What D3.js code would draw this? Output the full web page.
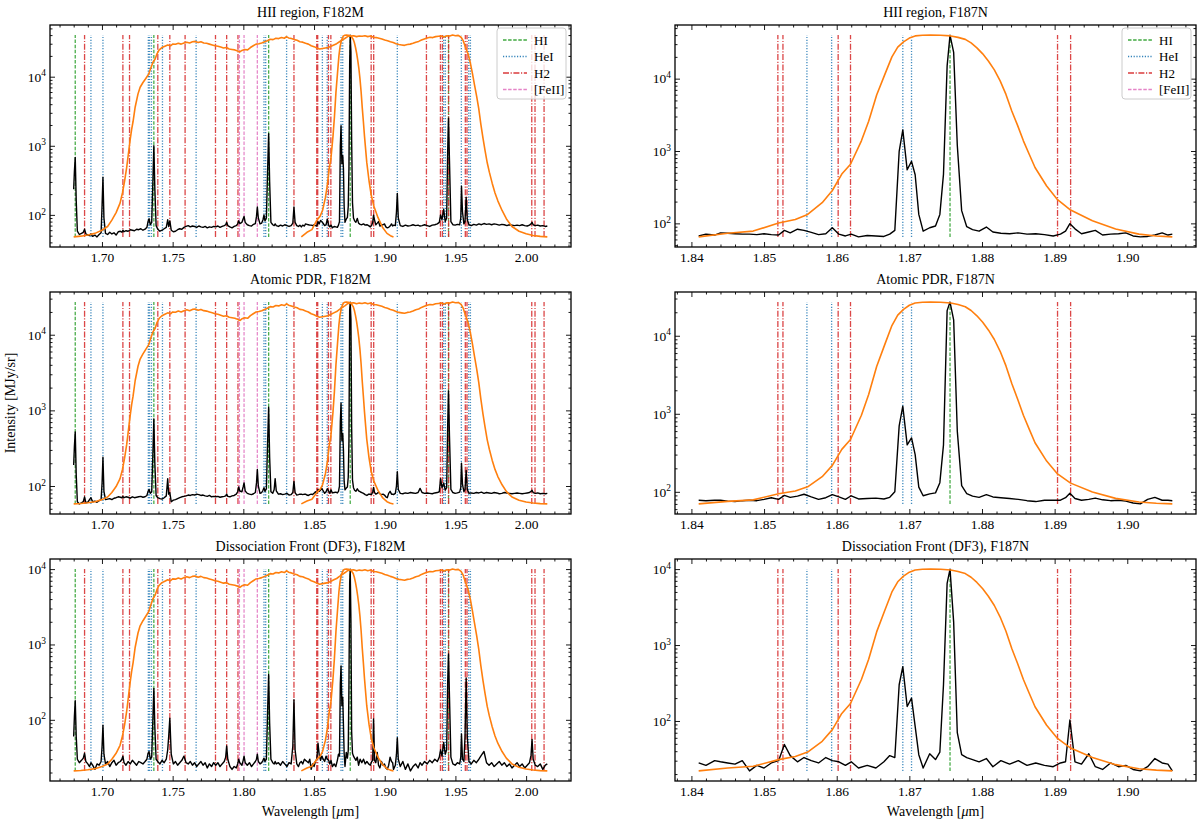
<!DOCTYPE html>
<html>
<head>
<meta charset="utf-8">
<script src="https://cdnjs.cloudflare.com/ajax/libs/d3/7.8.5/d3.min.js"></script>
<style>
  body { margin: 0; background: #fff; }
  svg, svg text { font-family: "Liberation Serif", "Times New Roman", "DejaVu Serif", serif; }
</style>
</head>
<body>
<svg id="fig" width="1200" height="824"></svg>
<script>
const SERIF = '"Liberation Serif", "Times New Roman", "DejaVu Serif", serif';

// shared wavelength grid of the extracted spectra [um]
const wavelength = [
  1.6800, 1.6805, 1.6811, 1.6818, 1.6826, 1.6840, 1.6855, 1.6868, 1.6877, 1.6886,
  1.6900, 1.6912, 1.6922, 1.6934, 1.6950, 1.6965, 1.6980, 1.6994, 1.7001, 1.7007,
  1.7014, 1.7025, 1.7040, 1.7055, 1.7070, 1.7085, 1.7100, 1.7115, 1.7130, 1.7141,
  1.7148, 1.7156, 1.7170, 1.7185, 1.7200, 1.7215, 1.7230, 1.7245, 1.7260, 1.7275,
  1.7290, 1.7305, 1.7318, 1.7326, 1.7333, 1.7342, 1.7352, 1.7360, 1.7367, 1.7374,
  1.7383, 1.7395, 1.7410, 1.7425, 1.7440, 1.7455, 1.7465, 1.7472, 1.7480, 1.7490,
  1.7505, 1.7520, 1.7535, 1.7550, 1.7565, 1.7580, 1.7595, 1.7610, 1.7625, 1.7640,
  1.7655, 1.7670, 1.7685, 1.7700, 1.7715, 1.7730, 1.7745, 1.7760, 1.7775, 1.7790,
  1.7805, 1.7820, 1.7835, 1.7850, 1.7865, 1.7875, 1.7882, 1.7890, 1.7905, 1.7920,
  1.7935, 1.7950, 1.7960, 1.7967, 1.7975, 1.7990, 1.7999, 1.8005, 1.8013, 1.8028,
  1.8043, 1.8058, 1.8072, 1.8085, 1.8093, 1.8099, 1.8106, 1.8118, 1.8130, 1.8139,
  1.8146, 1.8153, 1.8163, 1.8171, 1.8179, 1.8186, 1.8195, 1.8208, 1.8218, 1.8225,
  1.8233, 1.8248, 1.8263, 1.8278, 1.8293, 1.8308, 1.8323, 1.8338, 1.8350, 1.8358,
  1.8366, 1.8378, 1.8390, 1.8400,
  1.8410, 1.8420, 1.8432, 1.8440, 1.8450, 1.8460, 1.8470, 1.8480, 1.8490, 1.8500,
  1.8510, 1.8520, 1.8528, 1.8536, 1.8546, 1.8555, 1.8565, 1.8575, 1.8585, 1.8594,
  1.8603, 1.8612, 1.8620, 1.8630, 1.8642, 1.8654, 1.8665, 1.8673, 1.8680, 1.8686,
  1.8691, 1.8697, 1.8703, 1.8708, 1.8713, 1.8719, 1.8728, 1.8736, 1.8742, 1.8747,
  1.8752, 1.8756, 1.8761, 1.8766, 1.8772, 1.8779, 1.8787, 1.8796, 1.8806, 1.8815,
  1.8826, 1.8838, 1.8850, 1.8862, 1.8874, 1.8886, 1.8898, 1.8908, 1.8915, 1.8921,
  1.8928, 1.8937, 1.8947, 1.8956, 1.8966, 1.8977, 1.8988, 1.8998, 1.9008, 1.9018,
  1.9028, 1.9038, 1.9048, 1.9056, 1.9062,
  1.9075, 1.9083, 1.9089, 1.9096, 1.9110, 1.9128, 1.9146, 1.9164, 1.9182, 1.9200,
  1.9218, 1.9236, 1.9250, 1.9264, 1.9282, 1.9300, 1.9318, 1.9336, 1.9354, 1.9372,
  1.9386, 1.9395, 1.9405, 1.9417, 1.9428, 1.9438, 1.9445, 1.9451, 1.9458, 1.9468,
  1.9482, 1.9498, 1.9514, 1.9530, 1.9538, 1.9543, 1.9550, 1.9560, 1.9568, 1.9576,
  1.9584, 1.9596, 1.9612, 1.9630, 1.9648, 1.9666, 1.9684, 1.9702, 1.9720, 1.9738,
  1.9756, 1.9774, 1.9792, 1.9810, 1.9828, 1.9846, 1.9864, 1.9882, 1.9900, 1.9918,
  1.9936, 1.9954, 1.9972, 1.9990, 2.0008, 2.0024, 2.0035, 2.0042, 2.0050, 2.0065,
  2.0082, 2.0100, 2.0118, 2.0136, 2.0150
];

// intensity [MJy/sr] on that grid, one array per region
const hiiFlux = [
  235, 420, 680, 160, 58, 52, 54, 56, 62, 53,
  51, 50, 53, 49, 51, 48, 52, 55, 140, 350,
  90, 54, 52, 56, 53, 55, 51, 57, 58, 56,
  60, 57, 59, 58, 61, 60, 59, 62, 61, 63,
  60, 62, 66, 80, 88, 72, 78, 300, 1000, 240,
  70, 62, 58, 60, 63, 66, 85, 68, 82, 60,
  57, 58, 61, 63, 62, 66, 68, 70, 67, 69,
  68, 66, 69, 67, 66, 68, 65, 67, 66, 68,
  67, 69, 66, 68, 70, 72, 78, 70, 67, 65,
  68, 70, 74, 82, 75, 78, 88, 95, 78, 72,
  70, 69, 73, 75, 95, 130, 90, 74, 76, 85,
  100, 82, 90, 400, 1500, 300, 78, 72, 70, 74,
  70, 68, 71, 69, 72, 70, 68, 70, 76, 130,
  78, 70, 68, 71,
  67, 71, 69, 74, 73, 72, 71, 71, 70, 72,
  70, 69, 80, 74, 83, 80, 75, 70, 72, 87,
  71, 67, 71, 65, 68, 67, 66, 71, 80, 990,
  1960, 550, 720, 470, 133, 78, 87, 92, 133, 480,
  15000, 40000, 23000, 1200, 150, 90, 82, 78, 89, 76,
  73, 72, 74, 71, 72, 70, 67, 71, 78, 99,
  84, 72, 76, 80, 69, 71, 72, 74, 67, 65,
  66, 69, 74, 69, 71,
  70, 110, 205, 90, 70, 68, 71, 69, 70, 72,
  70, 71, 69, 70, 72, 70, 68, 71, 72, 74,
  78, 100, 85, 120, 80, 90, 800, 2500, 600, 80,
  72, 71, 73, 72, 90, 260, 110, 74, 80, 180,
  85, 72, 70, 73, 71, 74, 72, 75, 73, 74,
  72, 74, 73, 71, 73, 72, 70, 72, 71, 70,
  71, 70, 72, 70, 69, 71, 74, 78, 72, 70,
  71, 69, 70, 68, 69
];

const pdrFlux = [
  190, 330, 520, 140, 62, 58, 60, 62, 72, 60,
  61, 66, 70, 62, 63, 61, 64, 66, 110, 240,
  85, 66, 67, 68, 66, 69, 70, 72, 71, 70,
  73, 70, 72, 71, 69, 72, 70, 71, 72, 73,
  71, 72, 75, 85, 90, 80, 84, 260, 770, 200,
  75, 70, 68, 67, 70, 74, 125, 78, 82, 62,
  65, 66, 68, 70, 72, 73, 74, 76, 75, 77,
  76, 78, 77, 75, 76, 74, 73, 75, 72, 73,
  72, 73, 71, 72, 73, 74, 78, 73, 72, 74,
  75, 78, 84, 97, 86, 84, 98, 110, 86, 80,
  78, 77, 79, 82, 110, 165, 100, 80, 82, 88,
  95, 85, 92, 350, 1100, 240, 84, 80, 90, 125,
  86, 78, 79, 77, 78, 80, 76, 77, 82, 115,
  82, 76, 77, 78,
  78, 77, 78, 78, 76, 75, 77, 78, 77, 80,
  84, 80, 90, 85, 88, 93, 86, 80, 84, 92,
  86, 80, 89, 81, 82, 83, 81, 85, 100, 700,
  1250, 400, 490, 300, 115, 89, 94, 97, 131, 400,
  21000, 27000, 16000, 600, 120, 95, 88, 85, 92, 86,
  84, 82, 80, 77, 75, 78, 78, 78, 84, 96,
  82, 78, 80, 83, 79, 77, 78, 76, 72, 70,
  80, 85, 78, 78, 77,
  80, 100, 155, 90, 80, 79, 81, 80, 82, 81,
  80, 82, 93, 82, 80, 81, 80, 79, 81, 82,
  84, 125, 95, 110, 88, 95, 600, 1800, 450, 90,
  82, 80, 81, 83, 95, 200, 105, 84, 90, 160,
  90, 80, 81, 80, 82, 81, 83, 80, 82, 81,
  80, 82, 81, 79, 80, 82, 81, 80, 79, 80,
  81, 80, 79, 80, 81, 82, 85, 88, 82, 80,
  81, 79, 80, 79, 80
];

const df3Flux = [
  60, 110, 180, 60, 30, 27, 29, 31, 36, 28,
  26, 24, 27, 25, 22, 26, 25, 28, 45, 85,
  35, 26, 28, 24, 27, 29, 25, 27, 28, 30,
  33, 27, 25, 28, 26, 29, 27, 25, 28, 27,
  26, 28, 30, 36, 38, 30, 32, 100, 260, 80,
  30, 28, 26, 29, 27, 30, 40, 60, 105, 35,
  26, 28, 25, 27, 29, 33, 27, 26, 28, 25,
  27, 24, 26, 28, 25, 27, 23, 26, 24, 27,
  25, 27, 24, 26, 28, 32, 45, 30, 24, 22,
  24, 23, 26, 30, 27, 25, 29, 33, 27, 25,
  27, 24, 26, 28, 30, 35, 28, 26, 27, 29,
  31, 28, 30, 120, 400, 90, 30, 27, 26, 28,
  26, 27, 25, 28, 26, 24, 27, 26, 45, 185,
  40, 26, 24, 27,
  28, 26, 30, 29, 28, 27, 30, 22, 26, 24,
  28, 30, 49, 35, 29, 33, 30, 28, 33, 30,
  29, 26, 29, 24, 26, 24, 29, 35, 33, 300,
  520, 155, 200, 85, 36, 24, 37, 31, 39, 300,
  6500, 10000, 2000, 70, 36, 33, 31, 29, 32, 25,
  30, 27, 30, 26, 28, 26, 25, 28, 29, 103,
  29, 27, 37, 25, 23, 28, 25, 26, 23, 22,
  25, 32, 28, 27, 22,
  25, 35, 58, 30, 24, 28, 22, 26, 21, 24,
  26, 23, 27, 25, 28, 26, 29, 27, 30, 28,
  32, 40, 33, 50, 35, 40, 300, 750, 200, 32,
  26, 25, 27, 26, 32, 65, 30, 28, 60, 360,
  60, 28, 26, 29, 27, 30, 34, 38, 27, 25,
  27, 24, 26, 28, 25, 27, 24, 26, 23, 25,
  27, 24, 26, 23, 25, 27, 34, 55, 30, 25,
  24, 26, 22, 25, 26
];

// filter throughputs, normalised to 1 at peak
const f182Wave = [
  1.6800, 1.6850, 1.6900, 1.6950, 1.7000, 1.7040, 1.7070, 1.7100, 1.7128, 1.7145,
  1.7160, 1.7175, 1.7187, 1.7200, 1.7210, 1.7220, 1.7235, 1.7255, 1.7270, 1.7290,
  1.7310, 1.7330, 1.7345, 1.7360, 1.7376, 1.7390, 1.7405, 1.7424, 1.7445, 1.7465,
  1.7485, 1.7500, 1.7520, 1.7540, 1.7560, 1.7580, 1.7600, 1.7620, 1.7640, 1.7660,
  1.7680, 1.7700, 1.7720, 1.7740, 1.7760, 1.7780, 1.7800, 1.7820, 1.7840, 1.7860,
  1.7880, 1.7900, 1.7920, 1.7940, 1.7960, 1.7975, 1.7990, 1.8010, 1.8030, 1.8050,
  1.8070, 1.8090, 1.8110, 1.8130, 1.8150, 1.8170, 1.8190, 1.8210, 1.8230, 1.8250,
  1.8270, 1.8290, 1.8305, 1.8320, 1.8340, 1.8360, 1.8380, 1.8400, 1.8420, 1.8440,
  1.8460, 1.8480, 1.8500, 1.8520, 1.8540, 1.8560, 1.8580, 1.8600, 1.8620, 1.8640,
  1.8660, 1.8680, 1.8700, 1.8720, 1.8740, 1.8760, 1.8780, 1.8800, 1.8820, 1.8840,
  1.8860, 1.8880, 1.8900, 1.8920, 1.8940, 1.8960, 1.8980, 1.9000, 1.9020, 1.9040,
  1.9060, 1.9080, 1.9100, 1.9120, 1.9140, 1.9160, 1.9180, 1.9200, 1.9220, 1.9240,
  1.9260, 1.9280, 1.9300, 1.9320, 1.9340, 1.9360, 1.9380, 1.9400, 1.9420, 1.9440,
  1.9460, 1.9480, 1.9500, 1.9520, 1.9540, 1.9555, 1.9570, 1.9590, 1.9605, 1.9620,
  1.9635, 1.9650, 1.9665, 1.9680, 1.9695, 1.9710, 1.9725, 1.9740, 1.9760, 1.9780,
  1.9800, 1.9830, 1.9860, 1.9900, 1.9950, 2.0000, 2.0050, 2.0100, 2.0150
];
const f182Trans = [
  0, 0.00003, 0.00008, 0.00015, 0.0003, 0.0005, 0.0009, 0.0015, 0.0025, 0.0040,
  0.0065, 0.011, 0.018, 0.030, 0.042, 0.055, 0.090, 0.140, 0.175, 0.205,
  0.235, 0.270, 0.330, 0.400, 0.450, 0.540, 0.610, 0.660, 0.690, 0.720,
  0.700, 0.740, 0.735, 0.760, 0.740, 0.770, 0.790, 0.770, 0.800, 0.810,
  0.780, 0.800, 0.770, 0.760, 0.740, 0.720, 0.700, 0.690, 0.670, 0.650,
  0.660, 0.630, 0.620, 0.610, 0.590, 0.570, 0.600, 0.620, 0.610, 0.660,
  0.700, 0.740, 0.750, 0.770, 0.800, 0.830, 0.870, 0.860, 0.900, 0.890,
  0.920, 0.900, 0.950, 0.910, 0.890, 0.860, 0.840, 0.800, 0.790, 0.760,
  0.740, 0.700, 0.680, 0.650, 0.630, 0.640, 0.650, 0.660, 0.690, 0.720,
  0.750, 0.800, 0.850, 0.900, 0.960, 0.970, 0.980, 0.950, 0.970, 0.960,
  0.980, 0.950, 0.970, 0.930, 0.920, 0.900, 0.880, 0.850, 0.830, 0.800,
  0.780, 0.750, 0.730, 0.720, 0.710, 0.730, 0.740, 0.760, 0.790, 0.810,
  0.850, 0.880, 0.910, 0.930, 0.920, 0.950, 0.960, 0.970, 0.940, 0.980,
  0.970, 1.000, 0.980, 0.990, 0.930, 0.830, 0.680, 0.530, 0.400, 0.280,
  0.190, 0.130, 0.085, 0.050, 0.031, 0.020, 0.013, 0.0092, 0.0060, 0.0040,
  0.0028, 0.0017, 0.0010, 0.0005, 0.00025, 0.00013, 0.00006, 0.00002, 0
];

const f187Wave = [
  1.8410, 1.8450, 1.8485, 1.8520, 1.8543, 1.8560, 1.8580, 1.8594, 1.8607, 1.8619,
  1.8634, 1.8644, 1.8655, 1.8666, 1.8676, 1.8684, 1.8692, 1.8700, 1.8708, 1.8718,
  1.8729, 1.8743, 1.8757, 1.8767, 1.8777, 1.8785, 1.8793, 1.8801, 1.8809, 1.8817,
  1.8825, 1.8833, 1.8841, 1.8849, 1.8857, 1.8865, 1.8873, 1.8889, 1.8904, 1.8922,
  1.8952, 1.8984, 1.9016, 1.9040, 1.9062
];
const f187Trans = [
  0, 0.0002, 0.00033, 0.0009, 0.0012, 0.0017, 0.0032, 0.0055, 0.0104, 0.0148,
  0.033, 0.063, 0.147, 0.281, 0.499, 0.680, 0.807, 0.910, 0.974, 0.995,
  1.000, 0.995, 0.974, 0.930, 0.872, 0.780, 0.666, 0.550, 0.435, 0.330,
  0.232, 0.150, 0.088, 0.055, 0.033, 0.021, 0.0132, 0.0066, 0.0037, 0.0022,
  0.0011, 0.00046, 0.00015, 0.00005, 0
];

// line identifications [um]
const hiLines = [1.6811, 1.7367, 1.8179, 1.8756, 1.9451];
const heiLines = [1.6922, 1.7007, 1.7328, 1.7336, 1.7350, 1.7428, 1.7666, 1.8146, 1.8158, 1.8306,
  1.8559, 1.8593, 1.8691, 1.8703, 1.9089, 1.9417, 1.9429, 1.9542, 1.9594, 1.9606];
const h2Lines = [1.6877, 1.7148, 1.7195, 1.7395, 1.7480, 1.7588, 1.7803, 1.7882, 1.7962, 1.8358,
  1.8519, 1.8526, 1.8602, 1.8619, 1.8904, 1.8922, 1.9295, 1.9394, 1.9408, 1.9452,
  1.9570, 1.9582, 2.0040, 2.0063, 2.0127];
const feiiLines = [1.7972, 1.8005, 1.8099];

const regionNames = ["HII region", "Atomic PDR", "Dissociation Front (DF3)"];
const filterNames = ["F182M", "F187N"];
const f187Range = [1.841, 1.9062];
const f182Ticks = [1.70, 1.75, 1.80, 1.85, 1.90, 1.95, 2.00];
const f187Ticks = [1.84, 1.85, 1.86, 1.87, 1.88, 1.89, 1.90];

const lineGroups = [
  { label: "HI", lines: hiLines, color: "#2ca02c", dash: "3.5,1.6" },
  { label: "HeI", lines: heiLines, color: "#1f77b4", dash: "1.2,1.6" },
  { label: "H2", lines: h2Lines, color: "#d62728", dash: "6,1.6,1.2,1.6" },
  { label: "[FeII]", lines: feiiLines, color: "#e377c2", dash: "3.5,1.6" }
];

const svg = d3.select("#fig");
const colX = [50, 675], panelW = 521;
const rowY = [25, 292, 559], panelH = 222;
const fluxes = [hiiFlux, pdrFlux, df3Flux];

fluxes.forEach((flux, r) => {
  filterNames.forEach((filt, c) => drawPanel(r, c, flux));
});

function drawPanel(r, c, flux) {
  const g = svg.append("g").attr("transform", `translate(${colX[c]},${rowY[r]})`);

  let pts = wavelength.map((w, i) => [w, flux[i]]);
  if (c === 1) pts = pts.filter(p => p[0] >= f187Range[0] && p[0] <= f187Range[1]);

  const lo = d3.min(pts, p => p[1]);
  const hi = d3.max(pts, p => p[1]);
  const [w0, w1] = d3.extent(pts, p => p[0]);
  const xPad = (w1 - w0) * 0.05;
  const x = d3.scaleLinear().domain([w0 - xPad, w1 + xPad]).range([0, panelW]);
  const l0 = Math.log10(lo), l1 = Math.log10(hi), yPad = (l1 - l0) * 0.05;
  const y = d3.scaleLog().domain([10 ** (l0 - yPad), 10 ** (l1 + yPad)]).range([panelH, 0]);

  // line markers, only inside the plotted wavelength range
  lineGroups.forEach(grp => {
    g.selectAll(null)
      .data(grp.lines.filter(v => v >= w0 && v <= w1))
      .enter().append("line")
      .attr("x1", d => x(d)).attr("x2", d => x(d))
      .attr("y1", y(lo)).attr("y2", y(hi))
      .attr("stroke", grp.color)
      .attr("stroke-width", 1.3)
      .attr("stroke-dasharray", grp.dash)
      .attr("opacity", 0.85);
  });

  // spectrum
  const line = d3.line().x(d => x(d[0])).y(d => y(d[1]));
  g.append("path").datum(pts)
    .attr("d", line)
    .attr("fill", "none")
    .attr("stroke", "#000")
    .attr("stroke-width", 1.4)
    .attr("stroke-linejoin", "round");

  // filter curves scaled between min and max of the spectrum
  const filters = c === 0 ? [[f182Wave, f182Trans], [f187Wave, f187Trans]] : [[f187Wave, f187Trans]];
  filters.forEach(([fw, ft]) => {
    const fpts = fw.map((w, i) => [w, lo + ft[i] * (hi - lo)]);
    g.append("path").datum(fpts)
      .attr("d", line)
      .attr("fill", "none")
      .attr("stroke", "#ff7f0e")
      .attr("stroke-width", 1.6)
      .attr("stroke-linejoin", "round");
  });

  // axes, ticks pointing inwards on all four sides
  const xMajor = c === 0 ? f182Ticks : f187Ticks;
  const xMinor = (c === 0
      ? d3.range(167, 204).filter(v => v % 5 !== 0).map(v => v / 100)
      : d3.range(919, 955).filter(v => v % 5 !== 0).map(v => v / 500))
    .filter(v => v > x.domain()[0] && v < x.domain()[1]);

  const yMajor = [1e1, 1e2, 1e3, 1e4, 1e5].filter(v => v >= y.domain()[0] && v <= y.domain()[1]);
  const yMinor = [];
  [1, 2, 3, 4].forEach(k => d3.range(2, 10).forEach(m => {
    const v = m * 10 ** k;
    if (v > y.domain()[0] && v < y.domain()[1]) yMinor.push(v);
  }));

  const axes = [
    [d3.axisBottom(x).tickValues(xMajor).tickSize(-5).tickPadding(5).tickFormat(d3.format(".2f")), `translate(0,${panelH})`],
    [d3.axisBottom(x).tickValues(xMinor).tickSize(-2.5).tickFormat(""), `translate(0,${panelH})`],
    [d3.axisTop(x).tickValues(xMajor).tickSize(-5).tickFormat(""), null],
    [d3.axisTop(x).tickValues(xMinor).tickSize(-2.5).tickFormat(""), null],
    [d3.axisLeft(y).tickValues(yMajor).tickSize(-5).tickPadding(4), null],
    [d3.axisLeft(y).tickValues(yMinor).tickSize(-2.5).tickFormat(""), null],
    [d3.axisRight(y).tickValues(yMajor).tickSize(-5).tickFormat(""), `translate(${panelW},0)`],
    [d3.axisRight(y).tickValues(yMinor).tickSize(-2.5).tickFormat(""), `translate(${panelW},0)`]
  ];
  axes.forEach(([ax, tr], i) => {
    const a = g.append("g").attr("transform", tr).call(ax)
      .attr("font-family", SERIF).attr("font-size", 13.5);
    a.select(".domain").remove();
    a.selectAll(".tick line").attr("stroke", "#000").attr("stroke-width", 0.9);
    a.selectAll(".tick text").attr("fill", "#000").attr("font-family", SERIF);
    if (i === 4) {
      a.selectAll(".tick text")
        .text("10")
        .append("tspan")
        .attr("dy", "-0.55em")
        .attr("font-size", "0.7em")
        .text(d => Math.round(Math.log10(d)));
    }
  });

  g.append("rect")
    .attr("width", panelW).attr("height", panelH)
    .attr("fill", "none").attr("stroke", "#000").attr("stroke-width", 1.3);

  g.append("text")
    .attr("x", panelW / 2).attr("y", -8)
    .attr("text-anchor", "middle")
    .attr("font-family", SERIF)
    .attr("font-size", 14)
    .text(`${regionNames[r]}, ${filterNames[c]}`);

  if (r === 0) drawLegend(g);
  if (r === 2) {
    const t = g.append("text")
      .attr("x", panelW / 2).attr("y", panelH + 35)
      .attr("text-anchor", "middle")
      .attr("font-family", SERIF)
      .attr("font-size", 14);
    t.append("tspan").text("Wavelength [");
    t.append("tspan").attr("font-style", "italic").text("μ");
    t.append("tspan").text("m]");
  }
}

function drawLegend(g) {
  const lg = g.append("g").attr("transform", `translate(${panelW - 74},3)`);
  lg.append("rect")
    .attr("width", 69).attr("height", 71).attr("rx", 3)
    .attr("fill", "#fff").attr("fill-opacity", 0.8)
    .attr("stroke", "#ccc").attr("stroke-width", 1);
  lineGroups.forEach((grp, i) => {
    const yy = 12 + i * 16.5;
    lg.append("line")
      .attr("x1", 6).attr("x2", 30).attr("y1", yy).attr("y2", yy)
      .attr("stroke", grp.color).attr("stroke-width", 1.3)
      .attr("stroke-dasharray", grp.dash).attr("opacity", 0.9);
    lg.append("text")
      .attr("x", 37).attr("y", yy).attr("dy", "0.35em")
      .attr("font-family", SERIF)
      .attr("font-size", 13)
      .text(grp.label);
  });
}

svg.append("text")
  .attr("transform", `translate(15,${(rowY[0] + rowY[2] + panelH) / 2}) rotate(-90)`)
  .attr("text-anchor", "middle")
  .attr("font-family", SERIF)
  .attr("font-size", 14)
  .text("Intensity [MJy/sr]");
</script>
</body>
</html>
